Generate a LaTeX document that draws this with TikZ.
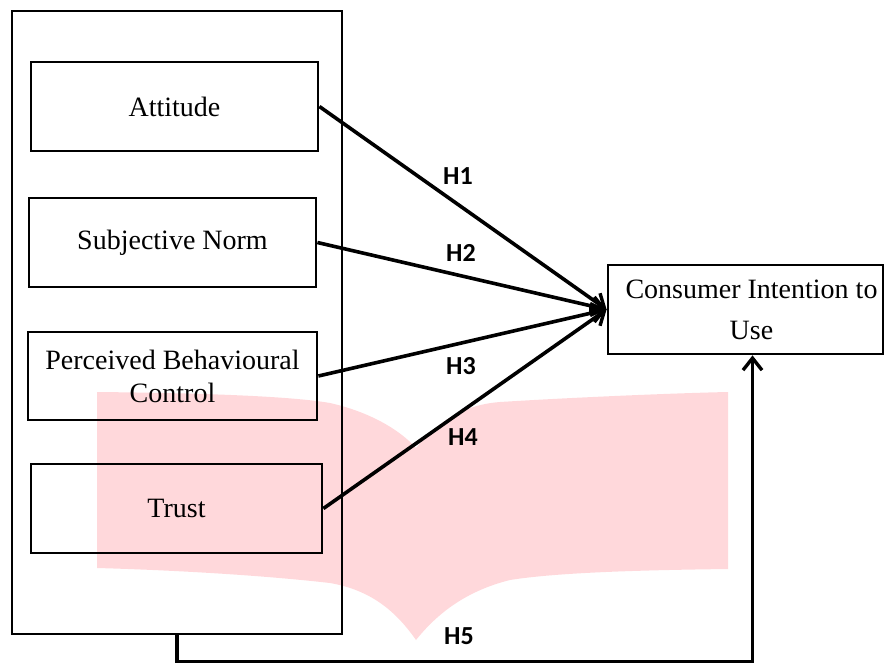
\documentclass[tikz,border=0pt]{standalone}
\usepackage{fontspec}
\setmainfont{Liberation Serif}
\newfontfamily\hfont{Carlito}
\usetikzlibrary{arrows.meta}
\definecolor{wmpink}{RGB}{255,216,219}
\begin{document}
\begin{tikzpicture}[x=1pt,y=-1pt,
  frame/.style={draw,line width=2.5pt,inner sep=0pt},
  box/.style={draw,line width=2.8pt,inner sep=0pt,align=center,minimum height=89pt,font=\fontsize{28}{33}\selectfont},
  link/.style={line width=3.6pt,-{Straight Barb[length=12pt,width=19pt,line width=3.4pt]}},
  hyp/.style={font=\hfont\bfseries\fontsize{26}{30}\selectfont,inner sep=0pt}]
\useasboundingbox (0,0) rectangle (885,662);
% watermark
\fill[wmpink] (97,392) .. controls (200,393) and (290,396) .. (330,403)
  .. controls (370,412) and (400,430) .. (416,448)
  .. controls (435,425) and (460,405) .. (500,402)
  .. controls (580,397) and (680,393) .. (728,392)
  -- (728,569)
  .. controls (650,570) and (560,572) .. (510,580)
  .. controls (470,590) and (440,610) .. (416,640)
  .. controls (395,610) and (370,590) .. (330,583)
  .. controls (260,575) and (170,570) .. (97,568) -- cycle;
% nodes
\node[frame,minimum width=330pt,minimum height=623pt] (group) at (177,322.5) {};
\node[box,minimum width=287pt] (att) at (174.5,106.5) {Attitude};
\node[box,minimum width=287pt] (sn) at (172.5,242.5) {Subjective Norm};
\node[box,minimum width=289pt,minimum height=88pt] (pbc) at (172.5,376) {Perceived Behavioural\\Control};
\node[box,minimum width=291pt] (trust) at (176.5,508.5) {Trust};
\node[box,minimum width=275pt,font=\fontsize{28}{41}\selectfont] (cons) at (745.5,309.5) {\hspace*{12pt}Consumer Intention to\\\hspace*{12pt}Use};
% connectors
\draw[link] (att.east) -- (cons.west);
\draw[link] (sn.east) -- (cons.west);
\draw[link] (pbc.east) -- (cons.west);
\draw[link] (trust.east) -- (cons.west);
\draw[link] (group.south) -- ++(0,27) coordinate (bend) -| ([xshift=7pt]cons.south);
% labels
\node[hyp] (h1) at (458,176) {H1};
\node[hyp] (h2) at (461,253) {H2};
\node[hyp] (h3) at (461,366) {H3};
\node[hyp] (h4) at (463,437) {H4};
\node[hyp] (h5) at (459,636) {H5};
\end{tikzpicture}
\end{document}
